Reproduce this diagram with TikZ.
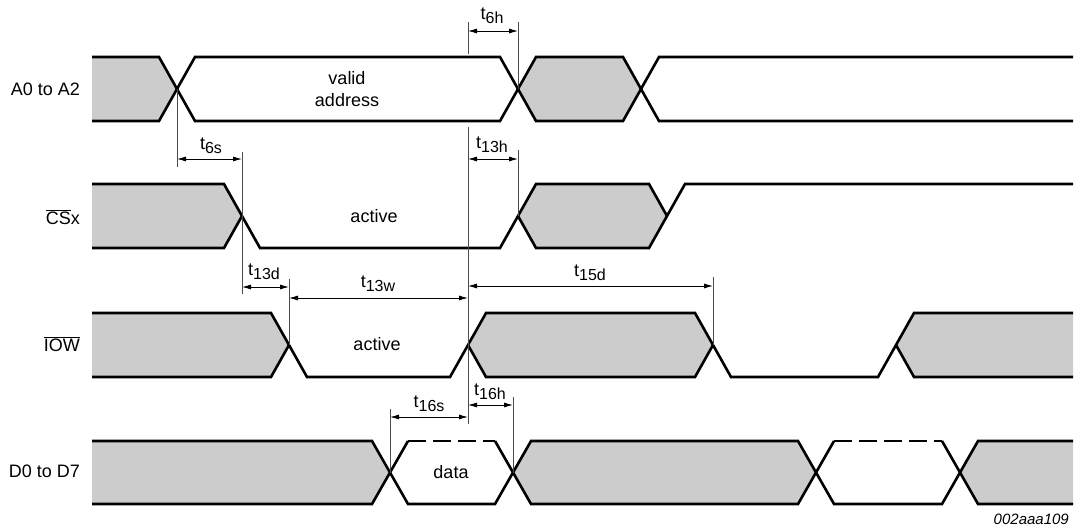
\documentclass[tikz,border=0pt]{standalone}
\usepackage{fontspec}
\setmainfont{Liberation Sans}
\usetikzlibrary{arrows.meta}
\definecolor{bgray}{HTML}{CCCCCC}
\newcommand\tlbl[1]{t\raisebox{-4.5pt}{\fontsize{16}{16}\selectfont #1}}
\begin{document}
\begin{tikzpicture}[x=1pt,y=-1pt,
  sig/.style={line width=2.6pt, line join=miter, line cap=butt},
  shd/.style={fill=bgray},
  dim/.style={line width=0.8pt,{Latex[length=9pt,width=5pt]}-{Latex[length=9pt,width=5pt]}},
  ext/.style={line width=0.8pt, draw=black!70},
  lbl/.style={font=\fontsize{18}{22}\selectfont, inner sep=0pt},
  dsh/.style={sig, dash pattern=on 18pt off 7pt}
]
\useasboundingbox (0,0) rectangle (1075,527);

% ---------- Row A0 to A2 (57 / 89 / 121) ----------
\fill[shd] (92,57) -- (159,57) -- (177,89) -- (159,121) -- (92,121) -- cycle;
\fill[shd] (518,89) -- (536,57) -- (623,57) -- (641,89) -- (623,121) -- (536,121) -- cycle;
\draw[sig] (92,57) -- (159,57) -- (195,121) -- (500,121) -- (536,57) -- (623,57) -- (659,121) -- (1073,121);
\draw[sig] (92,121) -- (159,121) -- (195,57) -- (500,57) -- (536,121) -- (623,121) -- (659,57) -- (1073,57);

% ---------- Row CSx (184 / 216 / 248) ----------
\fill[shd] (92,184) -- (224,184) -- (242,216) -- (224,248) -- (92,248) -- cycle;
\fill[shd] (518,216) -- (536,184) -- (649,184) -- (667,216) -- (649,248) -- (536,248) -- cycle;
\draw[sig] (92,184) -- (224,184) -- (260,248) -- (500,248) -- (536,184) -- (649,184) -- (667,216);
\draw[sig] (92,248) -- (224,248) -- (242,216);
\draw[sig] (518,216) -- (536,248) -- (649,248) -- (685,184) -- (1073,184);

% ---------- Row IOW (313 / 345 / 377) ----------
\fill[shd] (92,313) -- (271,313) -- (289,345) -- (271,377) -- (92,377) -- cycle;
\fill[shd] (468,345) -- (486,313) -- (695,313) -- (713,345) -- (695,377) -- (486,377) -- cycle;
\fill[shd] (896,345) -- (914,313) -- (1073,313) -- (1073,377) -- (914,377) -- cycle;
\draw[sig] (92,313) -- (271,313) -- (307,377) -- (450,377) -- (486,313) -- (695,313) -- (731,377) -- (878,377) -- (914,313) -- (1073,313);
\draw[sig] (92,377) -- (271,377) -- (289,345);
\draw[sig] (468,345) -- (486,377) -- (695,377) -- (713,345);
\draw[sig] (896,345) -- (914,377) -- (1073,377);

% ---------- Row D0 to D7 (441 / 472.5 / 504) ----------
\fill[shd] (92,441) -- (372,441) -- (390,472.5) -- (372,504) -- (92,504) -- cycle;
\fill[shd] (513,472.5) -- (531,441) -- (798,441) -- (816,472.5) -- (798,504) -- (531,504) -- cycle;
\fill[shd] (960,472.5) -- (978,441) -- (1073,441) -- (1073,504) -- (978,504) -- cycle;
\draw[sig] (92,441) -- (372,441) -- (408,504) -- (495,504) -- (531,441) -- (798,441) -- (834,504) -- (942,504) -- (978,441) -- (1073,441);
\draw[sig] (92,504) -- (372,504) -- (408,441);
\draw[dsh] (408,441) -- (495,441);
\draw[sig] (495,441) -- (531,504) -- (798,504) -- (834,441);
\draw[dsh] (834,441) -- (942,441);
\draw[sig] (942,441) -- (978,504) -- (1073,504);

% ---------- Row labels ----------
\node[lbl, anchor=east] (la) at (80,89) {A0 to A2};
\node[lbl, anchor=east] (lcs) at (80,217) {$\overline{\mbox{CS}}$x};
\node[lbl, anchor=east] (liow) at (80,344) {$\overline{\mbox{IOW}}$};
\node[lbl, anchor=east] (ld) at (80,471) {D0 to D7};

% ---------- In-signal texts ----------
\node[lbl, align=center] (tva) at (347,89) {valid\\address};
\node[lbl] (tact1) at (374,216) {active};
\node[lbl] (tact2) at (377,344) {active};
\node[lbl] (tdata) at (451,472) {data};
\node[font=\fontsize{15}{15}\selectfont\itshape, inner sep=0pt, anchor=east] (fig) at (1069,519) {002aaa109};

% ---------- Extension lines ----------
\draw[ext] (468,22) -- (468,54);
\draw[ext] (518,22) -- (518,89);
\draw[ext] (177,89) -- (177,167);
\draw[ext] (242,152) -- (242,294);
\draw[ext] (468,127) -- (468,424);
\draw[ext] (518,150) -- (518,216);
\draw[ext] (289,279) -- (289,345);
\draw[ext] (713,277) -- (713,345);
\draw[ext] (390,409) -- (390,472.5);
\draw[ext] (513,397) -- (513,472.5);

% ---------- Dimension arrows ----------
\coordinate (a6hL) at (468,31);  \coordinate (a6hR) at (518,31);
\coordinate (a6sL) at (177,159); \coordinate (a6sR) at (242,159);
\coordinate (a13hL) at (468,159); \coordinate (a13hR) at (518,159);
\coordinate (a13dL) at (242,287); \coordinate (a13dR) at (289,287);
\coordinate (a13wL) at (289,298); \coordinate (a13wR) at (468,298);
\coordinate (a15dL) at (468,286); \coordinate (a15dR) at (713,286);
\coordinate (a16sL) at (390,417); \coordinate (a16sR) at (468,417);
\coordinate (a16hL) at (468,405); \coordinate (a16hR) at (513,405);
\draw[dim] (a6hL) -- (a6hR);
\draw[dim] (a6sL) -- (a6sR);
\draw[dim] (a13hL) -- (a13hR);
\draw[dim] (a13dL) -- (a13dR);
\draw[dim] (a13wL) -- (a13wR);
\draw[dim] (a15dL) -- (a15dR);
\draw[dim] (a16sL) -- (a16sR);
\draw[dim] (a16hL) -- (a16hR);

% ---------- Timing labels ----------
\node[lbl] (l6h) at (492,16) {\tlbl{6h}};
\node[lbl] (l6s) at (211,146) {\tlbl{6s}};
\node[lbl] (l13h) at (492,145) {\tlbl{13h}};
\node[lbl] (l13d) at (264,272) {\tlbl{13d}};
\node[lbl] (l13w) at (378,284) {\tlbl{13w}};
\node[lbl] (l15d) at (590,273) {\tlbl{15d}};
\node[lbl] (l16s) at (429,404) {\tlbl{16s}};
\node[lbl] (l16h) at (490,392) {\tlbl{16h}};
\end{tikzpicture}
\end{document}
